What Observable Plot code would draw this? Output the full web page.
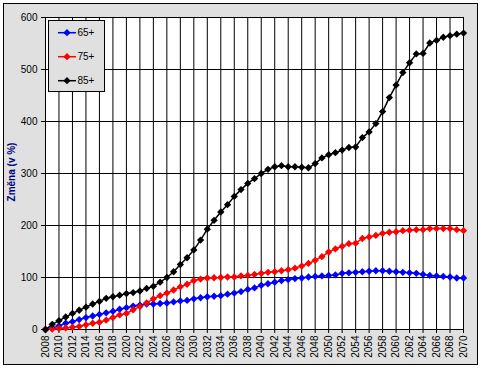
<!DOCTYPE html>
<html>
<head>
<meta charset="utf-8">
<script src="https://cdn.jsdelivr.net/npm/d3@7"></script>
<script src="https://cdn.jsdelivr.net/npm/@observablehq/plot@0.6"></script>
<style>
  html, body { margin: 0; padding: 0; background: #fff; }
  #chart svg { display: block; font-family: "Liberation Sans", Arial, sans-serif; }
</style>
</head>
<body>
<div id="chart"></div>
<script>
const years = d3.range(2008, 2071);
const xTicks = d3.range(2008, 2071, 2);
const yTicks = [0, 100, 200, 300, 400, 500, 600];
const seriesNames = ["65+", "75+", "85+"];
const seriesColors = ["#0000ff", "#ff0000", "#000000"];

const v65 = [0, 3, 7, 12, 15, 19, 23, 26, 29, 32, 35, 39, 42, 45, 47, 49, 49, 50, 51, 53,
  55, 56, 59, 61, 63, 64, 65, 68, 70, 73, 77, 80, 85, 88, 91, 94, 96, 98, 99, 101,
  102, 103, 104, 105, 108, 109, 110, 111, 112, 113, 113, 112, 111, 110, 109, 108, 106, 104, 103, 102,
  101, 99, 99];
const v75 = [0, 1, 2, 3, 4.5, 6, 9, 12, 14, 18, 23, 28, 31, 38, 44, 51, 59, 65, 70, 76,
  82, 87, 94, 97, 99, 99.5, 100, 101, 101, 103, 104, 106, 108, 110, 111, 113, 115, 118, 122, 127,
  133, 140, 149, 155, 160, 165, 166, 175, 178, 181, 185, 187, 188, 190, 191, 192, 192, 194, 194, 194,
  194, 192, 190];
const v85 = [0, 10, 17, 24, 31, 37, 43, 49, 54, 60, 63, 66, 69, 71, 74, 79, 83, 91, 100, 111,
  125, 138, 153, 172, 193, 210, 226, 240, 256, 269, 281, 290, 300, 308, 313, 315, 313, 313, 312, 311,
  319, 330, 336, 340, 345, 350, 351, 369, 380, 396, 419, 446, 470, 494, 513, 530, 531, 551, 556, 562,
  565, 568, 570];

const seriesValues = [v65, v75, v85];
const data = [];
seriesNames.forEach((name, i) => {
  years.forEach((yr, j) => data.push({series: name, year: yr, value: seriesValues[i][j]}));
});

const W = 482, H = 370;
const plot = Plot.plot({
  width: W,
  height: H,
  marginLeft: 45,
  marginRight: 19,
  marginTop: 17,
  marginBottom: 41,
  style: {background: "transparent", fontFamily: "Liberation Sans, Arial, sans-serif", fontSize: "10px", color: "#000"},
  x: {domain: [2008, 2070], type: "linear"},
  y: {domain: [0, 600]},
  color: {domain: seriesNames, range: seriesColors},
  marks: [
    Plot.frame({fill: "white"}),
    Plot.ruleX(xTicks, {stroke: "#000", strokeWidth: 1}),
    Plot.ruleY(yTicks, {stroke: "#000", strokeWidth: 1}),
    Plot.frame({stroke: "#000", strokeWidth: 1}),
    Plot.axisX({ticks: xTicks, tickFormat: d => String(d), tickRotate: -90, tickSize: 4, tickPadding: 2, label: null, fontSize: 10}),
    Plot.axisY({ticks: yTicks, tickSize: 4, tickPadding: 4, label: null, fontSize: 10}),
    Plot.line(data, {x: "year", y: "value", z: "series", stroke: "series", strokeWidth: 1.5}),
    Plot.dot(data, {x: "year", y: "value", fill: "series", symbol: "diamond2", r: 3.3, stroke: "none"})
  ]
});

const svg = d3.select(plot);
// outer chart-area frame (behind everything)
svg.insert("rect", ":first-child")
  .attr("x", 3.5).attr("y", 3.5).attr("width", 474).attr("height", 361)
  .attr("fill", "#e0e0e0").attr("stroke", "#000").attr("stroke-width", 1);

// y axis title
svg.append("text")
  .attr("transform", "translate(15,172) rotate(-90)")
  .attr("text-anchor", "middle")
  .attr("font-weight", "bold")
  .attr("font-size", 10)
  .attr("fill", "#000080")
  .text("Změna (v %)");

// legend
const lg = svg.append("g");
lg.append("rect").attr("x", 48.5).attr("y", 20.5).attr("width", 56).attr("height", 71)
  .attr("fill", "#e0e0e0").attr("stroke", "#000");
const legendY = [32.7, 56.7, 80.7];
seriesNames.forEach((name, i) => {
  const y = legendY[i];
  lg.append("line").attr("x1", 58).attr("x2", 76).attr("y1", y).attr("y2", y)
    .attr("stroke", seriesColors[i]).attr("stroke-width", 1.5);
  lg.append("path").attr("d", d3.symbol(d3.symbolDiamond2, Math.PI * 3.3 * 3.3)())
    .attr("transform", `translate(67,${y})`).attr("fill", seriesColors[i]);
  lg.append("text").attr("x", 77.5).attr("y", y).attr("dy", "0.35em")
    .attr("text-anchor", "start")
    .attr("font-size", 10).attr("fill", "#000").text(name);
});

document.getElementById("chart").appendChild(plot);
</script>
</body>
</html>
